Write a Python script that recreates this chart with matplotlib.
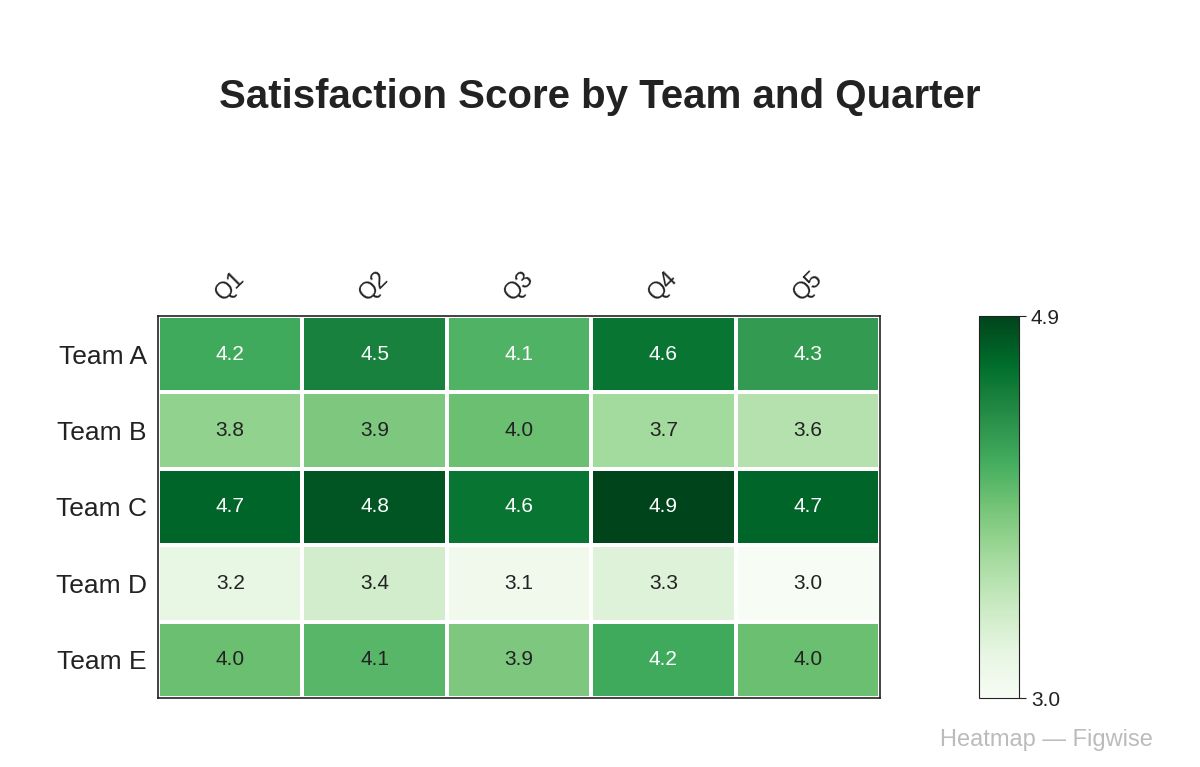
import numpy as np
import matplotlib.pyplot as plt
from matplotlib.colors import Normalize

plt.rcParams["font.family"] = ["Liberation Sans", "DejaVu Sans"]

teams = ["Team A", "Team B", "Team C", "Team D", "Team E"]
quarters = ["Q1", "Q2", "Q3", "Q4", "Q5"]
scores = [
    [4.2, 4.5, 4.12, 4.6, 4.3],
    [3.8, 3.9, 4.0, 3.7, 3.6],
    [4.7, 4.8, 4.6, 4.9, 4.7],
    [3.2, 3.4, 3.1, 3.3, 3.0],
    [4.0, 4.08, 3.9, 4.2, 4.0],
]
vmin, vmax = 3.0, 4.9

data = np.array(scores)
fig = plt.figure(figsize=(12, 7.67), dpi=100)
W, H = 1200, 767
ax = fig.add_axes([158 / W, 1 - 698 / H, (880 - 158) / W, (698 - 316) / H])
cax = fig.add_axes([979 / W, 1 - 698 / H, 40 / W, (698 - 316) / H])

norm = Normalize(vmin=vmin, vmax=vmax)
mesh = ax.pcolormesh(data, cmap="Greens", norm=norm, edgecolors="white", linewidth=1.5)
ax.set_xlim(0, len(quarters))
ax.set_ylim(len(teams), 0)
ax.set_xticks(np.arange(len(quarters)) + 0.5)
ax.set_xticklabels(quarters, rotation=45, fontsize=17, color="#222222")
ax.set_yticks(np.arange(len(teams)) + 0.5)
ax.set_yticklabels(teams, fontsize=19, color="#222222")
ax.xaxis.tick_top()
ax.tick_params(length=0, pad=8)
for s in ax.spines.values():
    s.set_color("#222222")
    s.set_linewidth(1.2)

for i in range(len(teams)):
    for j in range(len(quarters)):
        v = data[i, j]
        ax.text(j + 0.5, i + 0.5, f"{v:.1f}", ha="center", va="center", fontsize=15,
                color="white" if v > 4.1 else "#222222")

cb = fig.colorbar(mesh, cax=cax, ticks=[vmin, vmax])
cb.ax.set_yticklabels([f"{vmin:.1f}", f"{vmax:.1f}"])
cb.ax.tick_params(labelsize=15, length=5, colors="#222222")
cb.outline.set_edgecolor("#222222")

fig.text(0.5, 1 - 97 / H, "Satisfaction Score by Team and Quarter", ha="center", va="center",
         fontsize=29, fontweight="bold", color="#222222")
fig.text(1153 / W, 1 - 740 / H, "Heatmap — Figwise", ha="right", va="center",
         fontsize=17, color="#bbbbbb")

fig.savefig("out.png", dpi=100, facecolor="white")
